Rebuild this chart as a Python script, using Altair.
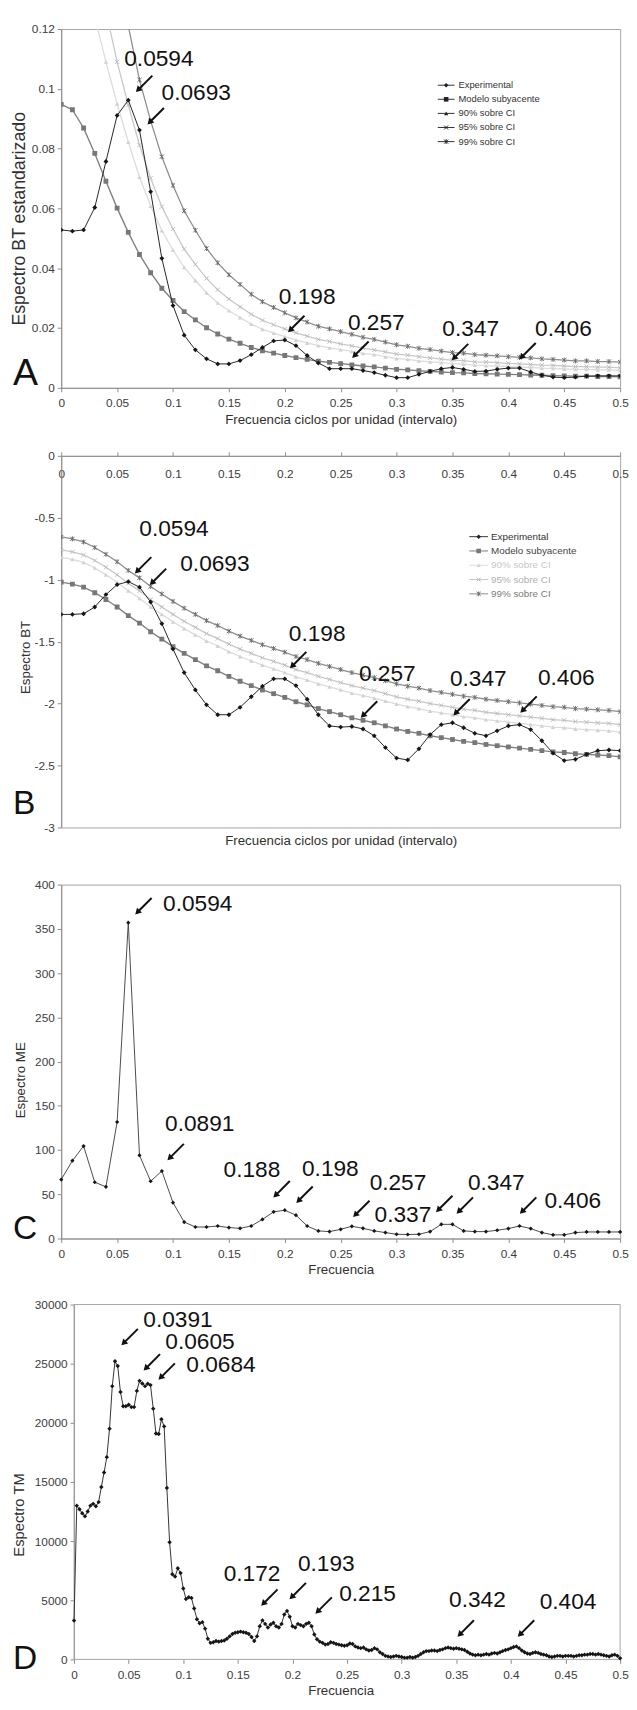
import altair as alt
import pandas as pd

# ---------------- data ----------------
FREQ = [round(i * 0.01, 2) for i in range(51)]
XTICKS = [0, 0.05, 0.1, 0.15, 0.2, 0.25, 0.3, 0.35, 0.4, 0.45, 0.5]
SERIES = ["Experimental", "Modelo subyacente", "90% sobre CI", "95% sobre CI", "99% sobre CI"]

A_EXP = [0.0528, 0.0524, 0.0528, 0.0603, 0.0757, 0.0911, 0.0962, 0.0862, 0.0656, 0.0433,
         0.0275, 0.0176, 0.0127, 0.0097, 0.0080, 0.0080, 0.0091, 0.0111, 0.0135, 0.0157,
         0.0160, 0.0141, 0.0108, 0.0083, 0.0064, 0.0064, 0.0064, 0.0058, 0.0051, 0.0042,
         0.0034, 0.0034, 0.0045, 0.0055, 0.0064, 0.0068, 0.0062, 0.0055, 0.0056, 0.0062,
         0.0066, 0.0066, 0.0053, 0.0042, 0.0036, 0.0034, 0.0036, 0.0039, 0.0040, 0.0040, 0.0040]
A_MOD = [0.0948, 0.0930, 0.0869, 0.0784, 0.0691, 0.0601, 0.0520, 0.0446, 0.0385, 0.0333,
         0.0292, 0.0255, 0.0227, 0.0201, 0.0180, 0.0163, 0.0149, 0.0135, 0.0124, 0.0116,
         0.0108, 0.0101, 0.0095, 0.0089, 0.0085, 0.0081, 0.0077, 0.0073, 0.0070, 0.0066,
         0.0062, 0.0060, 0.0057, 0.0055, 0.0053, 0.0051, 0.0050, 0.0048, 0.0047, 0.0046,
         0.0045, 0.0044, 0.0043, 0.0042, 0.0041, 0.0040, 0.0039, 0.0039, 0.0038, 0.0038, 0.0037]
A_90 = [0.150, 0.147, 0.137, 0.124, 0.109, 0.0950, 0.0822, 0.0705, 0.0608, 0.0526,
        0.0461, 0.0403, 0.0359, 0.0318, 0.0284, 0.0258, 0.0235, 0.0213, 0.0196, 0.0183,
        0.0171, 0.0160, 0.0150, 0.0141, 0.0134, 0.0128, 0.0122, 0.0115, 0.0111, 0.0104,
        0.0098, 0.0095, 0.0090, 0.0087, 0.0084, 0.0081, 0.0079, 0.0076, 0.0074, 0.0073,
        0.0071, 0.0070, 0.0068, 0.0066, 0.0065, 0.0063, 0.0062, 0.0062, 0.0060, 0.0060, 0.0058]
A_95 = [0.173, 0.169, 0.158, 0.143, 0.126, 0.109, 0.0946, 0.0812, 0.0701, 0.0606,
        0.0531, 0.0464, 0.0413, 0.0366, 0.0328, 0.0297, 0.0271, 0.0246, 0.0226, 0.0211,
        0.0197, 0.0184, 0.0173, 0.0162, 0.0155, 0.0147, 0.0140, 0.0133, 0.0127, 0.0120,
        0.0113, 0.0109, 0.0104, 0.0100, 0.0096, 0.0093, 0.0091, 0.0087, 0.0086, 0.0084,
        0.0082, 0.0080, 0.0078, 0.0076, 0.0075, 0.0073, 0.0071, 0.0071, 0.0069, 0.0069, 0.0067]
A_99 = [0.220, 0.216, 0.202, 0.182, 0.160, 0.139, 0.121, 0.103, 0.0893, 0.0773,
        0.0677, 0.0592, 0.0527, 0.0466, 0.0418, 0.0378, 0.0346, 0.0313, 0.0288, 0.0269,
        0.0251, 0.0234, 0.0220, 0.0206, 0.0197, 0.0188, 0.0179, 0.0169, 0.0162, 0.0153,
        0.0144, 0.0139, 0.0132, 0.0128, 0.0123, 0.0118, 0.0116, 0.0111, 0.0109, 0.0107,
        0.0104, 0.0102, 0.0100, 0.0097, 0.0095, 0.0093, 0.0090, 0.0090, 0.0088, 0.0088, 0.0086]

B_EXP = [-1.28, -1.28, -1.275, -1.22, -1.12, -1.04, -1.015, -1.06, -1.18, -1.355,
         -1.56, -1.75, -1.89, -2.01, -2.09, -2.09, -2.03, -1.945, -1.86, -1.80,
         -1.80, -1.855, -1.965, -2.09, -2.18, -2.19, -2.185, -2.205, -2.26, -2.355,
         -2.44, -2.455, -2.365, -2.25, -2.17, -2.155, -2.195, -2.24, -2.26, -2.22,
         -2.18, -2.17, -2.21, -2.30, -2.40, -2.46, -2.45, -2.41, -2.38, -2.375, -2.38]
B_MOD = [-1.02, -1.035, -1.06, -1.105, -1.16, -1.22, -1.29, -1.35, -1.42, -1.48,
         -1.54, -1.595, -1.645, -1.695, -1.735, -1.78, -1.82, -1.855, -1.89, -1.92,
         -1.95, -1.985, -2.01, -2.04, -2.065, -2.09, -2.115, -2.135, -2.155, -2.18,
         -2.205, -2.225, -2.24, -2.26, -2.275, -2.29, -2.305, -2.315, -2.33, -2.34,
         -2.35, -2.36, -2.37, -2.38, -2.39, -2.395, -2.405, -2.41, -2.415, -2.42, -2.43]
B_90 = [-0.82, -0.835, -0.86, -0.905, -0.96, -1.02, -1.09, -1.15, -1.22, -1.28,
        -1.34, -1.395, -1.445, -1.495, -1.535, -1.58, -1.62, -1.655, -1.69, -1.72,
        -1.75, -1.785, -1.81, -1.84, -1.865, -1.89, -1.915, -1.935, -1.955, -1.98,
        -2.005, -2.025, -2.04, -2.06, -2.075, -2.09, -2.105, -2.115, -2.13, -2.14,
        -2.15, -2.16, -2.17, -2.18, -2.19, -2.195, -2.205, -2.21, -2.215, -2.22, -2.23]
B_95 = [-0.76, -0.775, -0.80, -0.845, -0.90, -0.96, -1.03, -1.09, -1.16, -1.22,
        -1.28, -1.335, -1.385, -1.435, -1.475, -1.52, -1.56, -1.595, -1.63, -1.66,
        -1.69, -1.725, -1.75, -1.78, -1.805, -1.83, -1.855, -1.875, -1.895, -1.92,
        -1.945, -1.965, -1.98, -2.00, -2.015, -2.03, -2.045, -2.055, -2.07, -2.08,
        -2.09, -2.10, -2.11, -2.12, -2.13, -2.135, -2.145, -2.15, -2.155, -2.16, -2.17]
B_99 = [-0.655, -0.67, -0.695, -0.74, -0.795, -0.855, -0.925, -0.985, -1.055, -1.115,
        -1.175, -1.23, -1.28, -1.33, -1.37, -1.415, -1.455, -1.49, -1.525, -1.555,
        -1.585, -1.62, -1.645, -1.675, -1.70, -1.725, -1.75, -1.77, -1.79, -1.815,
        -1.84, -1.86, -1.875, -1.895, -1.91, -1.925, -1.94, -1.95, -1.965, -1.975,
        -1.985, -1.995, -2.005, -2.015, -2.025, -2.03, -2.04, -2.045, -2.05, -2.055, -2.065]

C_ME = [66.6, 88, 104.5, 63.6, 58.4, 131.7, 357, 94, 64.7, 76.3,
        40.5, 18.6, 13, 13, 14.1, 12.3, 11.5, 14.1, 21.6, 30.1,
        32, 26.4, 14.1, 8.6, 7.8, 10.4, 13.8, 11.5, 8.6, 6.7,
        4.8, 4.5, 4.8, 7.8, 16, 16, 8.6, 7.8, 7.8, 9.3,
        11.2, 14.1, 11.2, 6.7, 4.1, 4.1, 6.7, 7.4, 7.4, 7.4, 7.4]

D_FREQ = [round(i * 0.0025, 4) for i in range(201)]
D_TM = [3280, 13000, 12700, 12350, 12100, 12500, 13000, 13150, 12950, 13300,
        14580, 15800, 17100, 19500, 23100, 25200, 24800, 22600, 21400, 21400,
        21530, 21330, 21330, 22700, 23550, 23330, 23100, 23300, 23190, 21200,
        19100, 19050, 20300, 19700, 14500, 9900, 7200, 7000, 7700, 7300,
        6000, 5100, 5250, 5200, 4300, 3400, 3060, 3150, 2600, 1750,
        1400, 1450, 1550, 1500, 1550, 1600, 1750, 1950, 2150, 2250,
        2300, 2350, 2300, 2250, 2150, 1900, 1550, 1950, 2800, 3300,
        3000, 2700, 2950, 3100, 2800, 2700, 3000, 3800, 4100, 3600,
        2800, 2700, 3000, 2900, 2800, 3000, 3100, 2800, 2100, 1700,
        1500, 1400, 1250, 1300, 1450, 1400, 1300, 1250, 1200, 1150,
        1200, 1350, 1300, 1100, 1000, 950, 1000, 850, 750, 800,
        950, 850, 600, 450, 300, 250, 200, 250, 300, 250,
        200, 150, 150, 200, 150, 200, 300, 450, 600, 700,
        700, 750, 750, 700, 800, 850, 950, 1000, 950, 900,
        950, 900, 850, 800, 650, 500, 400, 350, 400, 350,
        400, 450, 400, 500, 550, 500, 600, 700, 800, 850,
        950, 1050, 1100, 950, 750, 600, 500, 450, 550, 600,
        550, 450, 400, 350, 250, 200, 250, 300, 300, 250,
        300, 300, 300, 250, 300, 350, 350, 400, 400, 450,
        450, 400, 450, 400, 350, 300, 250, 350, 400, 300,
        100]

# annotations: label, text anchor (left, middle), arrow tip
A_LAB = ["0.0594", "0.0693", "0.198", "0.257", "0.347", "0.406"]
A_TX = [0.0564, 0.0898, 0.1947, 0.2565, 0.3409, 0.4239]
A_TY = [0.1098, 0.0985, 0.0304, 0.0218, 0.0198, 0.0198]
A_PX = [0.0665, 0.0769, 0.2026, 0.260, 0.3491, 0.4095]
A_PY = [0.0988, 0.0880, 0.0185, 0.0099, 0.0091, 0.0094]

B_LAB = ["0.0594", "0.0693", "0.198", "0.257", "0.347", "0.406"]
B_TX = [0.0699, 0.1065, 0.2036, 0.2663, 0.3477, 0.4265]
B_TY = [-0.595, -0.876, -1.44, -1.766, -1.806, -1.798]
B_PX = [0.0656, 0.0789, 0.2043, 0.2677, 0.3505, 0.4104]
B_PY = [-0.953, -1.046, -1.718, -2.117, -2.098, -2.077]

C_LAB = ["0.0594", "0.0891", "0.188", "0.198", "0.257", "0.337", "0.347", "0.406"]
C_TX = [0.0911, 0.0929, 0.1452, 0.2154, 0.2759, 0.2803, 0.3638, 0.4323]
C_TY = [378, 129, 77.8, 78.5, 62.9, 26.4, 62.9, 42.4]
C_PX = [0.0659, 0.0947, 0.1895, 0.21, 0.2608, 0.335, 0.3534, 0.41]
C_PY = [366, 88, 46, 39.8, 23.8, 29.4, 27.5, 27.5]

D_LAB = ["0.0391", "0.0605", "0.0684", "0.172", "0.193", "0.215", "0.342", "0.404"]
D_TX = [0.0634, 0.0836, 0.1028, 0.137, 0.205, 0.2428, 0.3434, 0.4263]
D_TY = [28670, 26800, 24860, 7220, 8060, 5560, 5000, 4860]
D_PX = [0.0431, 0.0634, 0.077, 0.171, 0.197, 0.2207, 0.3508, 0.406]
D_PY = [26530, 24390, 23610, 4500, 5050, 3830, 1890, 1890]

# ---------------- styles ----------------
FONT = "Liberation Sans"
XPATH = "M-1,-1L1,1M-1,1L1,-1"
STARPATH = "M-1,-1L1,1M-1,1L1,-1M0,-1.2L0,1.2"
STYLE = {
    "Experimental": dict(line="#262626", sym="#161616", shape="diamond", filled=True, size=24, lw=1.0),
    "Modelo subyacente": dict(line="#808080", sym="#777777", shape="square", filled=True, size=24, lw=1.4),
    "90% sobre CI": dict(line="#dcdcdc", sym="#d2d2d2", shape="triangle-up", filled=True, size=20, lw=1.3),
    "95% sobre CI": dict(line="#c8c8c8", sym="#bcbcbc", shape=XPATH, filled=False, size=18, lw=1.3),
    "99% sobre CI": dict(line="#8e8e8e", sym="#6c6c6c", shape=STARPATH, filled=False, size=18, lw=1.3),
}
W = 567
ONE = pd.DataFrame({"t": [0]})


def enc(xs, ys, xaxis, yaxis):
    return dict(x=alt.X("f:Q", scale=xs, axis=xaxis), y=alt.Y("v:Q", scale=ys, axis=yaxis))


def series_layers(freq, vals, name, xs, ys, xaxis, yaxis):
    st = STYLE[name]
    base = alt.Chart(pd.DataFrame({"f": freq, "v": vals}))
    line = base.mark_line(color=st["line"], strokeWidth=st["lw"], clip=True).encode(**enc(xs, ys, xaxis, yaxis))
    pts = base.mark_point(shape=st["shape"], filled=st["filled"], size=st["size"], color=st["sym"],
                          opacity=1, strokeWidth=1, clip=True).encode(**enc(xs, ys, xaxis, yaxis))
    return [line, pts]


def annotation_layers(lab, tx, ty, px, py, xs, ys, xaxis, yaxis, fs=23):
    tdf = pd.DataFrame({"f": tx, "v": ty, "lab": lab})
    adf = pd.DataFrame({"f": px, "v": py})
    rule = alt.Chart(adf).mark_rule(color="#111111", strokeWidth=2, xOffset=2, yOffset=-2,
                                    x2Offset=17, y2Offset=-17).encode(
        **enc(xs, ys, xaxis, yaxis), x2="f:Q", y2="v:Q")
    head = alt.Chart(adf).mark_point(shape="triangle-up", filled=True, size=50, angle=225,
                                     color="#111111", opacity=1, xOffset=2.5, yOffset=-2.5).encode(
        **enc(xs, ys, xaxis, yaxis))
    text = alt.Chart(tdf).mark_text(align="left", baseline="middle", fontSize=fs, color="#111111").encode(
        **enc(xs, ys, xaxis, yaxis), text="lab:N")
    return [rule, head, text]


def legend_layers(x0, x1, xsym, xtxt, y0, dy, lcol, scol, tcol, fs):
    out = []
    for i, name in enumerate(SERIES):
        st = STYLE[name]
        y = y0 + i * dy
        base = alt.Chart(ONE)
        out.append(base.mark_rule(color=lcol[i], strokeWidth=1).encode(
            x=alt.value(x0), x2=alt.value(x1), y=alt.value(y)))
        out.append(base.mark_point(shape=st["shape"], filled=st["filled"], size=st["size"] * 0.9,
                                   color=scol[i], opacity=1, strokeWidth=1).encode(
            x=alt.value(xsym), y=alt.value(y)))
        out.append(base.mark_text(text=name, align="left", baseline="middle", fontSize=fs,
                                  color=tcol[i]).encode(x=alt.value(xtxt), y=alt.value(y)))
    return out


def letter(ch, x, y, fs):
    return alt.Chart(ONE).mark_text(text=ch, align="left", baseline="alphabetic", fontSize=fs,
                                    color="#111111").encode(x=alt.value(x), y=alt.value(y))


XS = alt.Scale(domain=[0, 0.5], nice=False, zero=False)

# ---------------- panel A ----------------
YS_A = alt.Scale(domain=[0, 0.12], nice=False)
AX_A = alt.Axis(values=XTICKS, format=".2~f", labelFlush=False, labelPadding=6,
                title="Frecuencia ciclos por unidad (intervalo)", titleFontSize=13.5, titlePadding=4)
AY_A = alt.Axis(values=[0, 0.02, 0.04, 0.06, 0.08, 0.1, 0.12], format=".2~f", labelPadding=3,
                title="Espectro BT estandarizado", titleFontSize=18, titleAngle=270,
                titleBaseline="middle", titleAlign="center", titleX=-42.5, titleY=192)
layers_A = []
for name, vals in zip(["90% sobre CI", "95% sobre CI", "99% sobre CI", "Modelo subyacente", "Experimental"],
                      [A_90, A_95, A_99, A_MOD, A_EXP]):
    layers_A += series_layers(FREQ, vals, name, XS, YS_A, AX_A, AY_A)
layers_A += annotation_layers(A_LAB, A_TX, A_TY, A_PX, A_PY, XS, YS_A, AX_A, AY_A)
layers_A += legend_layers(382, 399, 390.5, 403, 57, 14.3, ["#333333"] * 5, ["#222222"] * 5,
                          ["#333333"] * 5, 9.5)
layers_A.append(letter("A", -49, 361, 38))
panel_A = alt.layer(*layers_A).properties(width=W, height=364)

# ---------------- panel B ----------------
YS_B = alt.Scale(domain=[-3, 0], nice=False)
AX_B_TOP = alt.Axis(orient="top", values=XTICKS, format=".2~f", labelFlush=False, labelBaseline="middle",
                    labelPadding=-22, title=None)
AX_B_BOT = alt.Axis(orient="bottom", labels=False, ticks=False, domain=False,
                    title="Frecuencia ciclos por unidad (intervalo)", titleFontSize=13.5, titlePadding=6)
AY_B = alt.Axis(values=[0, -0.5, -1, -1.5, -2, -2.5, -3], format=".1~f", labelPadding=3,
                title="Espectro BT", titleFontSize=13.5, titleAngle=270, titleBaseline="middle",
                titleAlign="center", titleX=-36.5, titleY=204)
layers_B = []
for name, vals in zip(["90% sobre CI", "95% sobre CI", "99% sobre CI", "Modelo subyacente", "Experimental"],
                      [B_90, B_95, B_99, B_MOD, B_EXP]):
    layers_B += series_layers(FREQ, vals, name, XS, YS_B, None, AY_B)
layers_B.append(alt.Chart(pd.DataFrame({"f": FREQ, "v": B_EXP})).mark_point(opacity=0).encode(
    **enc(XS, YS_B, AX_B_TOP, AY_B)))
layers_B.append(alt.Chart(pd.DataFrame({"f": FREQ, "v": B_EXP})).mark_point(opacity=0).encode(
    **enc(XS, YS_B, AX_B_BOT, AY_B)))
layers_B += annotation_layers(B_LAB, B_TX, B_TY, B_PX, B_PY, XS, YS_B, None, AY_B)
layers_B += legend_layers(414, 433, 423.5, 436, 82, 14.5,
                          ["#333333", "#7a7a7a", "#dcdcdc", "#c4c4c4", "#8a8a8a"],
                          ["#222222", "#777777", "#d2d2d2", "#bcbcbc", "#6c6c6c"],
                          ["#333333", "#444444", "#c8c8c8", "#b0b0b0", "#7a7a7a"], 10)
layers_B.append(letter("B", -49, 363, 34))
panel_B = alt.layer(*layers_B).resolve_axis(x="independent").properties(width=W, height=377)

# ---------------- panel C ----------------
YS_C = alt.Scale(domain=[0, 400], nice=False)
AX_C = alt.Axis(values=XTICKS, format=".2~f", labelFlush=False, labelPadding=6,
                title="Frecuencia", titleFontSize=13.5, titlePadding=4)
AY_C = alt.Axis(values=[0, 50, 100, 150, 200, 250, 300, 350, 400], format="d", labelPadding=3,
                title="Espectro ME", titleFontSize=13.5, titleAngle=270, titleBaseline="middle",
                titleAlign="center", titleX=-41.5, titleY=198)
base_C = alt.Chart(pd.DataFrame({"f": FREQ, "v": C_ME}))
layers_C = [
    base_C.mark_line(color="#4a4a4a", strokeWidth=1).encode(**enc(XS, YS_C, AX_C, AY_C)),
    base_C.mark_point(shape="diamond", filled=True, size=18, color="#161616", opacity=1).encode(
        **enc(XS, YS_C, AX_C, AY_C)),
]
layers_C += annotation_layers(C_LAB, C_TX, C_TY, C_PX, C_PY, XS, YS_C, AX_C, AY_C)
layers_C.append(letter("C", -49, 359, 34))
panel_C = alt.layer(*layers_C).properties(width=W, height=359)

# ---------------- panel D ----------------
XS_D = alt.Scale(domain=[-0.011733, 0.5], nice=False, zero=False)
YS_D = alt.Scale(domain=[0, 30000], nice=False)
AX_D = alt.Axis(values=XTICKS, format=".2~f", labelFlush=False, labelPadding=6, domain=False,
                title="Frecuencia", titleFontSize=13.5, titlePadding=4)
AY_D = alt.Axis(values=[0, 5000, 10000, 15000, 20000, 25000, 30000], format="d", labelPadding=3,
                offset=-13, title="Espectro TM", titleFontSize=15, titleAngle=270,
                titleBaseline="middle", titleAlign="center", titleX=-56, titleY=213)
base_D = alt.Chart(pd.DataFrame({"f": D_FREQ, "v": D_TM}))
frame_D = alt.Chart(ONE).mark_rect(fillOpacity=0, stroke="#a6a6a6", strokeWidth=1).encode(
    x=alt.X(datum=0, scale=XS_D, axis=AX_D), x2=alt.X2(datum=0.5),
    y=alt.Y(datum=0, scale=YS_D, axis=AY_D), y2=alt.Y2(datum=30000))
layers_D = [
    frame_D,
    base_D.mark_line(color="#333333", strokeWidth=1).encode(**enc(XS_D, YS_D, AX_D, AY_D)),
    base_D.mark_point(shape="diamond", filled=True, size=20, color="#161616", opacity=1).encode(
        **enc(XS_D, YS_D, AX_D, AY_D)),
]
layers_D += annotation_layers(D_LAB, D_TX, D_TY, D_PX, D_PY, XS_D, YS_D, AX_D, AY_D)
layers_D.append(letter("D", -49, 370, 34))
panel_D = alt.layer(*layers_D).properties(width=W, height=360,
                                          view=alt.ViewBackground(strokeOpacity=0))


def spacer(h):
    return alt.Chart(ONE).mark_point(opacity=0).encode(x=alt.value(0), y=alt.value(0)).properties(
        width=W, height=h, view=alt.ViewBackground(strokeOpacity=0))


chart = alt.vconcat(panel_A, spacer(69), panel_B, spacer(58), panel_C, spacer(67), panel_D,
                    spacing=0, bounds="flush").properties(
    padding={"left": 2, "top": 2, "right": 0, "bottom": 0}
).configure(
    font=FONT, background="white",
    locale={"number": {"decimal": ".", "thousands": ",", "grouping": [3],
                       "currency": ["$", ""], "minus": "-"}}
).configure_axis(
    labelFont=FONT, labelFontSize=12, labelColor="#3c3c3c", tickColor="#8c8c8c", tickSize=4,
    domainColor="#8c8c8c", grid=False, titleFont=FONT, titleFontWeight="normal", titleColor="#303030"
).configure_view(stroke="#a6a6a6", strokeWidth=1)

chart.save("out.html", embed_options={"renderer": "svg", "actions": False})
